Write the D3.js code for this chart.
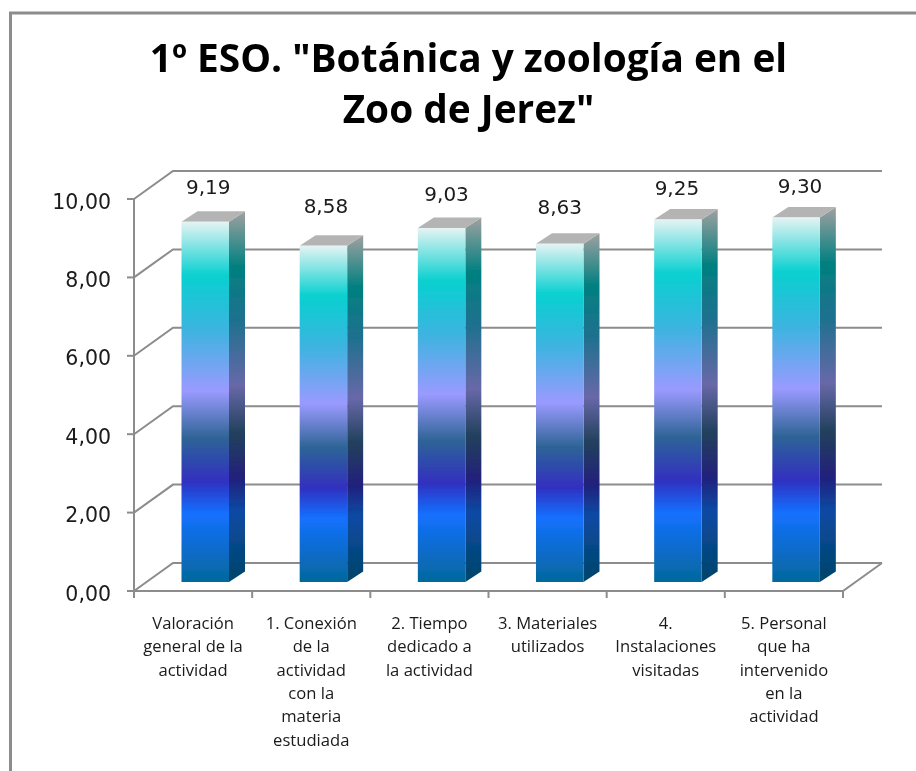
<!DOCTYPE html>
<html><head><meta charset="utf-8">
<script src="https://cdn.jsdelivr.net/npm/d3@7"></script>
<style>html,body{margin:0;padding:0;background:#fff}svg{display:block}</style>
</head><body><svg id="c" width="916" height="771"></svg>
<script>
const titleLines = ['1º ESO. "Botánica y zoología en el', 'Zoo de Jerez"'];
const categories = [
  ['Valoración','general de la','actividad'],
  ['1. Conexión','de la','actividad','con la','materia','estudiada'],
  ['2. Tiempo','dedicado a','la actividad'],
  ['3. Materiales','utilizados'],
  ['4.','Instalaciones','visitadas'],
  ['5. Personal','que ha','intervenido','en la','actividad']
];
const values = [9.19, 8.58, 9.03, 8.63, 9.25, 9.30];
const ticks = [0, 2, 4, 6, 8, 10];
const fmt = v => v.toFixed(2).replace('.', ',');

const frontStops = [[0,'#e6f3f3'],[.15,'#08d0d0'],[.3,'#3cb4e0'],[.47,'#9a9aff'],[.6,'#2f6496'],[.72,'#3030c0'],[.81,'#1470ff'],[1,'#04689c']];
const sideStops  = [[0,'#a0a0a0'],[.15,'#008080'],[.3,'#20708f'],[.47,'#6868a8'],[.6,'#20405c'],[.72,'#20207c'],[.81,'#0c4aa4'],[1,'#004468']];

// manual data-label placement, relative to each bar's top
const labelGap = [28, 33, 27, 30, 24.5, 24.5];
const labelDx = [3, 2.5, 5, 0, -1, 4];

const svg = d3.select('#c');
const defs = svg.append('defs');
const grad = (id, stops) => defs.append('linearGradient').attr('id', id)
  .attr('x1',0).attr('y1',0).attr('x2',0).attr('y2',1)
  .selectAll('stop').data(stops).join('stop')
  .attr('offset', d => d[0]).attr('stop-color', d => d[1]);
grad('front', frontStops); grad('side', sideStops);
defs.append('filter').attr('id','soft').append('feGaussianBlur').attr('stdDeviation',0.45);

const root = svg.append('g').attr('filter','url(#soft)');
const GRID = '#8c8c8c';

root.append('path').attr('d','M10.5,771V13H916').attr('fill','none').attr('stroke',GRID).attr('stroke-width',3);

root.append('g').selectAll('text').data(titleLines).join('text')
  .attr('x',468.5).attr('y',(d,i)=>72+i*50.5).attr('text-anchor','middle')
  .attr('font-family','"Open Sans",sans-serif').attr('font-weight',700)
  .attr('font-size',38.8).attr('fill','#000').text(d=>d);

const y = d3.scaleLinear().domain([0,10]).range([591,199]);
const x = d3.scaleBand().domain(d3.range(values.length)).range([134,843]);
const depth = {dx:39, dy:-28};
const barDepth = {dx:16, dy:-10.5};
const barBaseShift = -9;
const barW = 47.5, barOff = 47.5;

const grid = root.append('g').attr('fill','none').attr('stroke',GRID).attr('stroke-width',2);
ticks.forEach(t=>{
  grid.append('path').attr('d',`M134,${y(t)}L${134+depth.dx},${y(t)+depth.dy}H${843+depth.dx}`);
  grid.append('path').attr('d',`M127,${y(t)}H134`);
});
grid.append('path').attr('d',`M134,${y(10)}V${y(0)}H843L${843+depth.dx},${y(0)+depth.dy}`);
d3.range(values.length+1).forEach(i=>{
  const px = i<values.length ? x(i) : x.range()[1];
  grid.append('path').attr('d',`M${px},${y(0)}V${y(0)+7}`);
});

const bars = root.append('g').selectAll('g').data(values).join('g');
const L = (d,i)=>x(i)+barOff, T = d=>y(d)+barBaseShift, B = y(0)+barBaseShift;
bars.append('path').attr('fill','url(#side)')
  .attr('d',(d,i)=>{const l=L(d,i)+barW;return `M${l},${T(d)}l${barDepth.dx},${barDepth.dy}V${B+barDepth.dy}l${-barDepth.dx},${-barDepth.dy}Z`;});
bars.append('path').attr('fill','#b4b4b4')
  .attr('d',(d,i)=>{const l=L(d,i);return `M${l},${T(d)}l${barDepth.dx},${barDepth.dy}h${barW}l${-barDepth.dx},${-barDepth.dy}Z`;});
bars.append('rect').attr('fill','url(#front)')
  .attr('x',(d,i)=>L(d,i)).attr('y',d=>T(d)).attr('width',barW).attr('height',d=>B-T(d));
bars.append('text').attr('x',(d,i)=>L(d,i)+barW/2+labelDx[i]).attr('y',(d,i)=>T(d)-labelGap[i])
  .attr('text-anchor','middle').attr('font-family','"DejaVu Sans",sans-serif')
  .attr('font-size',20).attr('fill','#1a1a1a').text(fmt);

root.append('g').selectAll('text').data(ticks).join('text')
  .attr('x',111).attr('y',d=>y(d)+9.5).attr('text-anchor','end')
  .attr('font-family','"DejaVu Sans",sans-serif').attr('font-size',20.5).attr('fill','#1a1a1a').text(fmt);

const cat = root.append('g').selectAll('g').data(categories).join('g');
cat.selectAll('text').data((d,i)=>d.map((s,j)=>({s,j,i}))).join('text')
  .attr('x',d=>x(d.i)+x.bandwidth()/2).attr('y',d=>629+d.j*23.3).attr('text-anchor','middle')
  .attr('font-family','"Open Sans",sans-serif').attr('font-weight',500).attr('font-size',16.6).attr('fill','#1a1a1a').text(d=>d.s);
</script></body></html>
